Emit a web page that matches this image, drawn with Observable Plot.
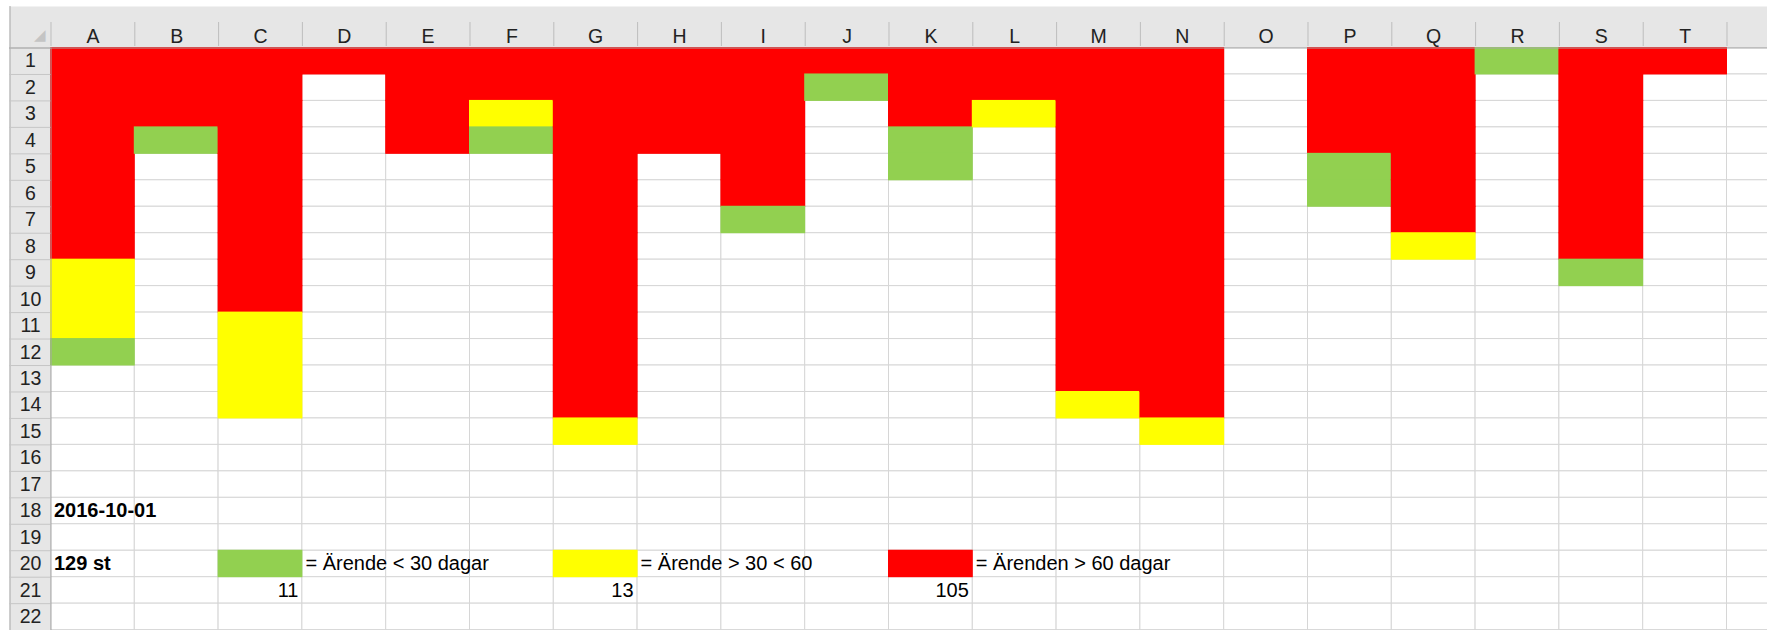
<!DOCTYPE html>
<html>
<head>
<meta charset="utf-8">
<script src="https://cdn.jsdelivr.net/npm/d3@7"></script>
<script src="https://cdn.jsdelivr.net/npm/@observablehq/plot@0.6"></script>
<style>
  html, body { margin: 0; padding: 0; background: #fff; overflow: hidden; }
  #chart svg { display: block; }
</style>
</head>
<body>
<div id="chart"></div>
<script>
// ---- data (read from the sheet) ----
const columns = ["A","B","C","D","E","F","G","H","I","J","K","L","M","N","O","P","Q","R","S","T"];
const extraColumns = ["U"];
const rowNumbers = d3.range(1, 23);

// cases per column, stacked from row 1 downward: red, then yellow, then green
const redCounts    = [8, 3, 10, 1, 4, 2, 14, 4, 6, 1, 3, 2, 13, 14, 0, 4, 7, 0, 8, 1];
const yellowCounts = [3, 0, 4, 0, 0, 1, 1, 0, 0, 0, 0, 1, 1, 1, 0, 0, 1, 0, 0, 0];
const greenCounts  = [1, 1, 0, 0, 0, 1, 0, 0, 1, 1, 2, 0, 0, 0, 0, 2, 0, 1, 1, 0];

const categories   = ["> 60", "30-60", "< 30"];
const categoryColors = ["#ff0000", "#ffff00", "#92d050"];

const legendSwatchColumns = ["K", "G", "C"];
const legendTextColumns   = ["L", "H", "D"];
const legendLabels = ["= Ärenden > 60 dagar", "= Ärende > 30 < 60", "= Ärende < 30 dagar"];
const totals = ["105", "13", "11"];

const dateLabel = "2016-10-01";
const totalLabel = "129 st";
const dateRow = 18, totalRow = 20, legendRow = 20, totalsRow = 21;

// ---- derived tables ----
const gridColumns = [...columns, ...extraColumns];
const allCells = gridColumns.flatMap(c => rowNumbers.map(r => ({col: c, row: r})));
const filled = columns.flatMap((c, i) => {
  const out = [];
  let r = 1;
  const counts = [redCounts[i], yellowCounts[i], greenCounts[i]];
  counts.forEach((n, k) => { for (let j = 0; j < n; j++) out.push({col: c, row: r++, cat: categories[k]}); });
  return out;
});
const legend = categories.map((cat, i) => ({
  cat, swatch: legendSwatchColumns[i], textCol: legendTextColumns[i], label: legendLabels[i], total: totals[i]
}));

// ---- layout ----
const W = 1767, H = 630;
const gridLeft = 50.5, gridTop = 47.5, colW = 83.8, rowH = 26.46;
const headTop = 6, headLeft = 9;
const font = "'Liberation Sans', Arial, sans-serif";

const chart = Plot.plot({
  width: W, height: H,
  marginTop: headTop, marginLeft: headLeft, marginRight: 0, marginBottom: 0,
  style: {background: "transparent", fontFamily: font, overflow: "hidden"},
  x: {type: "band", domain: gridColumns, range: [gridLeft, gridLeft + gridColumns.length * colW], padding: 0, round: false, axis: null},
  y: {type: "band", domain: rowNumbers, range: [gridTop, gridTop + rowNumbers.length * rowH], padding: 0, round: false, axis: null},
  color: {domain: categories, range: categoryColors},
  marks: [
    // header background
    Plot.frame({fill: "#e6e6e6", stroke: null}),
    // outer left border of the sheet
    Plot.ruleX(["A"], {x: d => d, dx: -colW / 2 - (gridLeft - headLeft) + 0.5, stroke: "#a8a8a8"}),
    // column header separators
    Plot.ruleX(gridColumns, {x: d => d, dx: -colW / 2, insetTop: 16, insetBottom: H - gridTop + 1.5, stroke: "#bdbdbd"}),
    // sheet grid
    Plot.cell(allCells, {x: "col", y: "row", fill: "white", stroke: "#d6d6d6", strokeWidth: 1}),
    // coloured case cells
    Plot.cell(filled, {x: "col", y: "row", fill: "cat", inset: -0.5}),
    // legend swatches
    Plot.cell(legend, {x: "swatch", y: () => legendRow, fill: "cat", inset: -0.5}),
    // row header separators
    Plot.ruleY(rowNumbers, {y: d => d, dy: -rowH / 2, insetRight: W - gridLeft, stroke: "#c6c6c6"}),
    // header bottom border & row header right border
    Plot.ruleY([1], {y: d => d, dy: -rowH / 2, stroke: "#a6a6a6"}),
    Plot.ruleX(["A"], {x: d => d, dx: -colW / 2, insetTop: gridTop - headTop, stroke: "#a6a6a6"}),
    // select-all corner triangle
    Plot.text(["◢"], {frameAnchor: "top-left", dx: 30, dy: 29, fontSize: 15, fill: "#c4c4c4", textAnchor: "middle", lineAnchor: "middle"}),
    // column letters
    Plot.axisX({anchor: "top", ticks: columns, tickSize: 0, tickPadding: -(42 - headTop), fontSize: 19.5, fill: "#222", label: null}),
    // row numbers
    Plot.axisY({anchor: "left", ticks: rowNumbers, tickSize: 0, tickPadding: -(30 - headLeft), textAnchor: "middle", fontSize: 19.5, fill: "#222", label: null}),
    // cell texts
    Plot.text([dateLabel], {x: () => "A", y: () => dateRow, text: d => d, textAnchor: "start", dx: -colW / 2 + 3, fontSize: 20, fontWeight: "bold", fill: "#000"}),
    Plot.text([totalLabel], {x: () => "A", y: () => totalRow, text: d => d, textAnchor: "start", dx: -colW / 2 + 3, fontSize: 20, fontWeight: "bold", fill: "#000"}),
    Plot.text(legend, {x: "textCol", y: () => legendRow, text: "label", textAnchor: "start", dx: -colW / 2 + 3, fontSize: 20, fill: "#000"}),
    Plot.text(legend, {x: "swatch", y: () => totalsRow, text: "total", textAnchor: "end", dx: colW / 2 - 4, fontSize: 20, fill: "#000"})
  ]
});
document.getElementById("chart").appendChild(chart);
</script>
</body>
</html>
